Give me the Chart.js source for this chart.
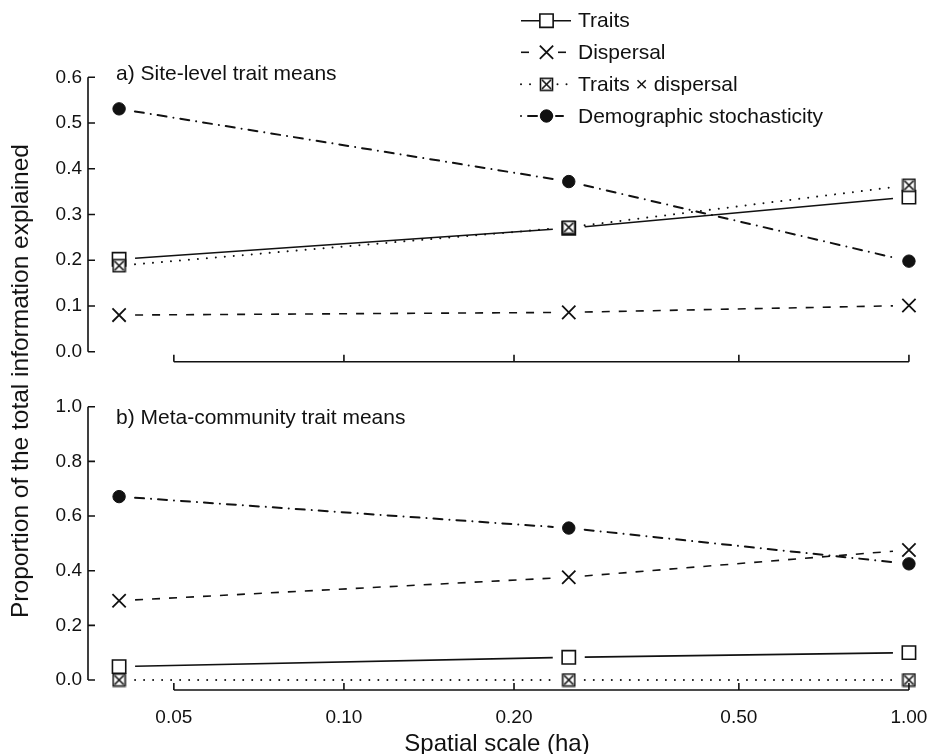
<!DOCTYPE html>
<html>
<head>
<meta charset="utf-8">
<script src="https://cdn.jsdelivr.net/npm/chart.js@4"></script>
<style>
  body { margin: 0; background: #fff; }
  #wrap { position: relative; width: 930px; height: 754px; font-family: "Liberation Sans", Arial, sans-serif; color: #111; }
  canvas { position: absolute; left: 0; }
  #ytitle { position: absolute; left: 20px; top: 381px; transform: translate(-50%, -50%) rotate(-90deg); white-space: nowrap; font-size: 24.5px; }
</style>
</head>
<body>
<div id="wrap">
  <canvas id="panelA" width="930" height="380" style="top:0"></canvas>
  <canvas id="panelB" width="930" height="374" style="top:380px"></canvas>
  <div id="ytitle">Proportion of the total information explained</div>
</div>
<script>
// spatial scales (ha)
const escalas = [0.04, 0.25, 1.0];
const xTicks = [0.05, 0.10, 0.20, 0.50, 1.00];

// a) site-level trait means
const aTraits = [0.202, 0.27, 0.338];
const aDispersal = [0.080, 0.086, 0.101];
const aTraitsDisp = [0.188, 0.272, 0.364];
const aDemog = [0.531, 0.372, 0.198];
const yTicksA = [0, 0.1, 0.2, 0.3, 0.4, 0.5, 0.6];

// b) meta-community trait means
const bTraits = [0.049, 0.083, 0.100];
const bDispersal = [0.290, 0.376, 0.476];
const bTraitsDisp = [0.0, 0.0, 0.0];
const bDemog = [0.671, 0.556, 0.425];
const yTicksB = [0, 0.2, 0.4, 0.6, 0.8, 1.0];

const fonte = '"Liberation Sans", Arial, sans-serif';
const preto = '#111';

// marcador quadrado com X
const quadX = document.createElement('canvas');
quadX.width = 15; quadX.height = 15;
(function () {
  const c = quadX.getContext('2d');
  c.fillStyle = '#fff';
  c.fillRect(1, 1, 13, 13);
  c.strokeStyle = preto;
  c.lineWidth = 1.6;
  c.strokeRect(1.5, 1.5, 12, 12);
  c.beginPath();
  c.moveTo(3, 3); c.lineTo(12, 12);
  c.moveTo(12, 3); c.lineTo(3, 12);
  c.stroke();
})();

const estilos = {
  traits: { dash: [], cap: 'butt', marker: { pointStyle: 'rect', radius: 9.4, bg: '#fff', bw: 1.6 } },
  dispersal: { dash: [8, 9], cap: 'butt', marker: { pointStyle: 'crossRot', radius: 9.4, bg: preto, bw: 1.8 } },
  traitsDisp: { dash: [0.01, 9], cap: 'round', marker: { pointStyle: quadX, radius: 7, bg: '#fff', bw: 1.5 } },
  demog: { dash: [9, 7, 0.01, 7], cap: 'round', marker: { pointStyle: 'circle', radius: 6.2, bg: preto, bw: 1 } }
};

function serie(nome, valores, ordem) {
  const e = estilos[nome];
  return {
    data: escalas.map((x, i) => ({ x: x, y: valores[i] })),
    showLine: false,
    clip: false,
    order: ordem,
    estilo: nome,
    pointStyle: e.marker.pointStyle,
    pointRadius: e.marker.radius,
    pointBackgroundColor: e.marker.bg,
    pointBorderColor: preto,
    pointBorderWidth: e.marker.bw
  };
}

// linhas com lacunas nos pontos (como type = "b" no R)
function linhaComLacuna(ctx, pts, e, gap) {
  ctx.save();
  ctx.strokeStyle = preto;
  ctx.lineWidth = e.cap === 'round' ? 2 : 1.6;
  ctx.lineCap = e.cap;
  ctx.setLineDash(e.dash);
  for (let i = 0; i < pts.length - 1; i++) {
    const a = pts[i], b = pts[i + 1];
    const dx = b.x - a.x, dy = b.y - a.y, d = Math.hypot(dx, dy);
    if (d <= 2 * gap) continue;
    const ux = dx / d, uy = dy / d;
    ctx.beginPath();
    ctx.moveTo(a.x + ux * gap, a.y + uy * gap);
    ctx.lineTo(b.x - ux * gap, b.y - uy * gap);
    ctx.stroke();
  }
  ctx.restore();
}

const linhasPlugin = {
  id: 'linhas',
  beforeDatasetsDraw(chart) {
    chart.data.datasets.forEach((ds, i) => {
      const pts = chart.getDatasetMeta(i).data.map(p => ({ x: p.x, y: p.y }));
      linhaComLacuna(chart.ctx, pts, estilos[ds.estilo], 16);
    });
  }
};

// eixos no estilo R
const eixosPlugin = {
  id: 'eixos',
  afterDraw(chart, args, opts) {
    const ctx = chart.ctx, area = chart.chartArea;
    const sx = chart.scales.x, sy = chart.scales.y;
    ctx.save();
    ctx.strokeStyle = preto;
    ctx.lineWidth = 1.6;
    const y0 = sy.getPixelForValue(opts.yTicks[0]);
    const y1 = sy.getPixelForValue(opts.yTicks[opts.yTicks.length - 1]);
    ctx.beginPath();
    ctx.moveTo(area.left, y0); ctx.lineTo(area.left, y1);
    opts.yTicks.forEach(v => {
      const y = sy.getPixelForValue(v);
      ctx.moveTo(area.left, y); ctx.lineTo(area.left + 7, y);
    });
    const yb = area.bottom + 10;
    const x0 = sx.getPixelForValue(xTicks[0]);
    const x1 = sx.getPixelForValue(xTicks[xTicks.length - 1]);
    ctx.moveTo(x0, yb); ctx.lineTo(x1, yb);
    xTicks.forEach(v => {
      const x = sx.getPixelForValue(v);
      ctx.moveTo(x, yb); ctx.lineTo(x, yb - 7);
    });
    ctx.stroke();
    ctx.fillStyle = preto;
    ctx.font = '21px ' + fonte;
    ctx.textBaseline = 'middle';
    ctx.fillText(opts.rotulo, 116, opts.rotuloY);
    if (opts.xTitulo) {
      ctx.font = '24px ' + fonte;
      ctx.textAlign = 'center';
      ctx.fillText(opts.xTitulo, 497, opts.xTituloY);
    }
    ctx.restore();
  }
};

const legendaPlugin = {
  id: 'legenda',
  afterDraw(chart) {
    const ctx = chart.ctx;
    const itens = [
      ['traits', 'Traits', 20.7, [[521, 571]], 0],
      ['dispersal', 'Dispersal', 52.3, [[521, 535], [558, 571]], 0],
      ['traitsDisp', 'Traits \u00d7 dispersal', 84.3, [[521, 535], [557.5, 571]], 0],
      ['demog', 'Demographic stochasticity', 116, [[521, 538], [556, 563]], 16]
    ];
    itens.forEach(([nome, texto, y, segs, desloc]) => {
      const e = estilos[nome];
      ctx.save();
      ctx.strokeStyle = preto;
      ctx.lineWidth = e.cap === 'round' ? 2 : 1.6;
      ctx.lineCap = e.cap;
      segs.forEach(([a, b], k) => {
        ctx.setLineDash(nome === 'demog' && k === 1 ? [] : e.dash);
        ctx.lineDashOffset = k === 0 ? desloc : 0;
        ctx.beginPath(); ctx.moveTo(a, y); ctx.lineTo(b, y); ctx.stroke();
      });
      ctx.setLineDash([]);
      ctx.fillStyle = e.marker.bg;
      ctx.lineWidth = e.marker.bw;
      Chart.helpers.drawPoint(ctx, { pointStyle: e.marker.pointStyle, radius: e.marker.radius, rotation: 0, borderWidth: e.marker.bw }, 546.5, y);
      ctx.fillStyle = preto;
      ctx.font = '21px ' + fonte;
      ctx.textBaseline = 'middle';
      ctx.fillText(texto, 578, y + 1);
      ctx.restore();
    });
  }
};

function opcoes(yMax, yTicks, rotulo, rotuloY, xAltura, mostrarX, xTitulo, xTituloY, topo) {
  return {
    responsive: false,
    animation: false,
    layout: { padding: { top: topo, left: 0, right: 0, bottom: 0 } },
    plugins: {
      legend: { display: false },
      tooltip: { enabled: false },
      eixos: { yTicks: yTicks, rotulo: rotulo, rotuloY: rotuloY, xTitulo: xTitulo, xTituloY: xTituloY }
    },
    scales: {
      x: {
        type: 'logarithmic',
        bounds: 'data',
        min: 0.03524,
        max: 1.041,
        grid: { display: false, drawTicks: false },
        border: { display: false },
        afterBuildTicks: s => { s.ticks = xTicks.map(v => ({ value: v })); },
        afterFit: s => { s.height = xAltura; s.paddingLeft = 0; s.paddingRight = 0; },
        ticks: {
          display: mostrarX,
          autoSkip: false,
          maxRotation: 0,
          padding: 26,
          color: preto,
          font: { family: fonte, size: 19 },
          callback: v => Number(v).toFixed(2)
        }
      },
      y: {
        min: 0,
        max: yMax,
        grid: { display: false, drawTicks: false },
        border: { display: false },
        afterBuildTicks: s => { s.ticks = yTicks.map(v => ({ value: v })); },
        afterFit: s => { s.width = 88; s.paddingTop = 0; s.paddingBottom = 0; },
        ticks: {
          padding: 6,
          color: preto,
          font: { family: fonte, size: 19 },
          callback: v => Number(v).toFixed(1)
        }
      }
    }
  };
}

new Chart(document.getElementById('panelA').getContext('2d'), {
  type: 'scatter',
  data: {
    datasets: [
      serie('traitsDisp', aTraitsDisp, 0),
      serie('traits', aTraits, 1),
      serie('dispersal', aDispersal, 2),
      serie('demog', aDemog, 3)
    ]
  },
  options: opcoes(0.6, yTicksA, 'a) Site-level trait means', 74, 28.3, false, null, 0, 77.3),
  plugins: [linhasPlugin, eixosPlugin, legendaPlugin]
});

new Chart(document.getElementById('panelB').getContext('2d'), {
  type: 'scatter',
  data: {
    datasets: [
      serie('traitsDisp', bTraitsDisp, 0),
      serie('traits', bTraits, 1),
      serie('dispersal', bDispersal, 2),
      serie('demog', bDemog, 3)
    ]
  },
  options: opcoes(1.0, yTicksB, 'b) Meta-community trait means', 38, 74, true, 'Spatial scale (ha)', 364, 26.7),
  plugins: [linhasPlugin, eixosPlugin]
});
</script>
</body>
</html>
